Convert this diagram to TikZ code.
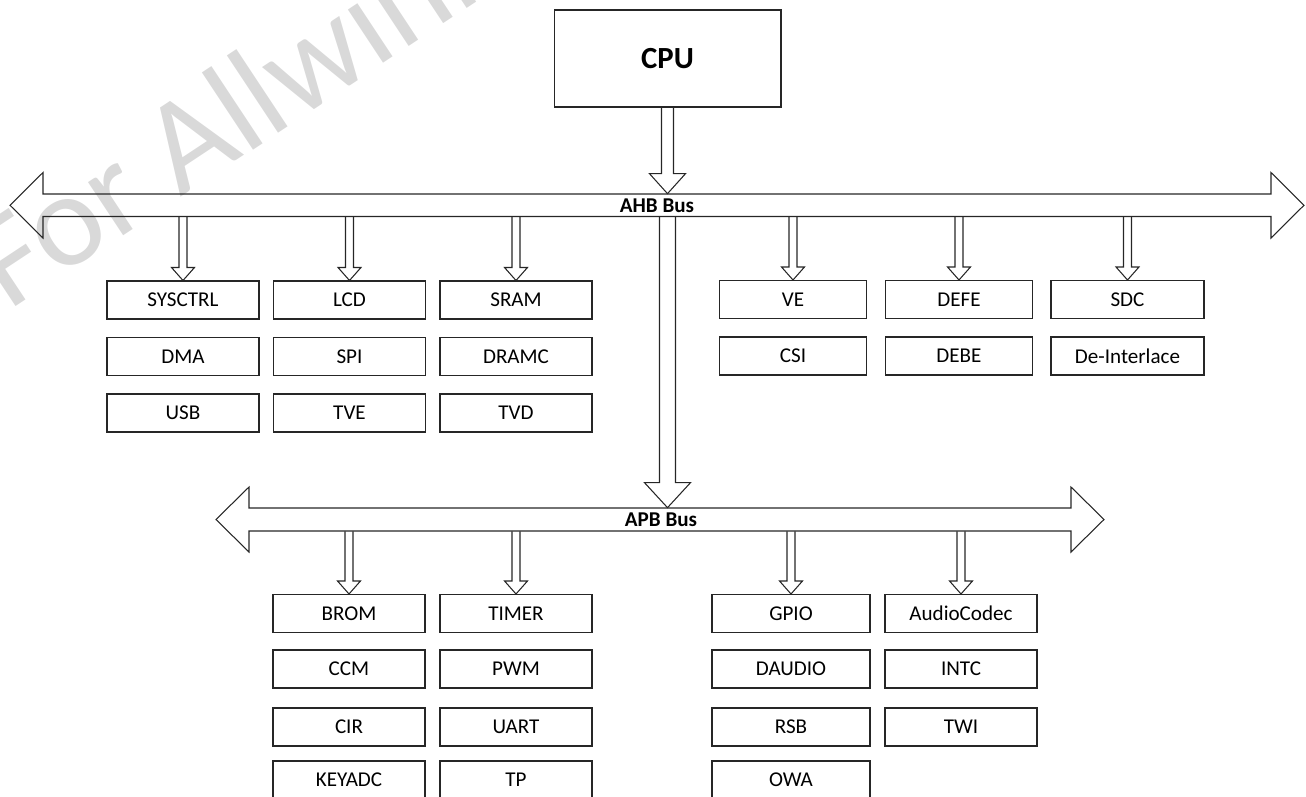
\documentclass[tikz,border=0pt]{standalone}
\usepackage{fontspec}
\setmainfont{Carlito}
\usepackage{tikz}
\usetikzlibrary{calc}
\definecolor{wmgray}{RGB}{217,217,217}
\tikzset{
  unit/.style={draw=black!85, line width=0.6pt, minimum width=3.04cm, minimum height=0.76cm, inner sep=0pt, font=\fontsize{12}{14}\selectfont},
  buslabel/.style={inner sep=0pt, minimum width=2cm, font=\bfseries\fontsize{12}{14}\selectfont},
  hollow/.style={draw=black!85, line width=0.6pt, line join=miter},
  wm/.style={text=wmgray, inner sep=0pt, font=\fontsize{76}{88}\selectfont}
}
\newcommand{\tapto}[5]{%
  \draw[hollow] let \p1=(#2), \p2=(#1.south) in
    (\x1-#3,\y2) -- (\x1-#3,\y1+#5) -- (\x1-#4,\y1+#5) -- (\p1)
    -- (\x1+#4,\y1+#5) -- (\x1+#3,\y1+#5) -- (\x1+#3,\y2);}
\begin{document}
\begin{tikzpicture}[x=0.02cm, y=-0.02cm]
\useasboundingbox (0,0) rectangle (1306,796);
\node[wm, rotate=33.5, anchor=base west] (WM) at (8,312) {For Allwinner};
\node[unit, minimum width=4.54cm, minimum height=1.94cm, font=\bfseries\fontsize{17.5}{20}\selectfont] (CPU) at (667.5,58.5) {CPU};
\draw[hollow] (10,205.25) -- (43,172.5) -- (43,194) -- (1271,194) -- (1271,172.5) -- (1304,205.25) -- (1271,238) -- (1271,216.5) -- (43,216.5) -- (43,238) -- cycle;
\node[buslabel, minimum height=0.45cm] (AHB) at (657,205.25) {AHB Bus};
\draw[hollow] (216,519.5) -- (249,487) -- (249,508) -- (1071,508) -- (1071,487) -- (1104,519.5) -- (1071,552) -- (1071,531) -- (249,531) -- (249,552) -- cycle;
\node[buslabel, minimum height=0.46cm] (APB) at (661,519.5) {APB Bus};
\node[unit] (G1NSYSCTRL) at (183,300) {SYSCTRL};
\node[unit] (G1NDMA) at (183,356.5) {DMA};
\node[unit] (G1NUSB) at (183,413) {USB};
\node[unit] (G1NLCD) at (349.5,300) {LCD};
\node[unit] (G1NSPI) at (349.5,356.5) {SPI};
\node[unit] (G1NTVE) at (349.5,413) {TVE};
\node[unit] (G1NSRAM) at (516,300) {SRAM};
\node[unit] (G1NDRAMC) at (516,356.5) {DRAMC};
\node[unit] (G1NTVD) at (516,413) {TVD};
\node[unit, minimum width=2.94cm] (G1NVE) at (793,299.5) {VE};
\node[unit, minimum width=2.94cm] (G1NCSI) at (793,356) {CSI};
\node[unit, minimum width=2.94cm] (G1NDEFE) at (959,299.5) {DEFE};
\node[unit, minimum width=2.94cm] (G1NDEBE) at (959,356) {DEBE};
\node[unit, minimum width=3.06cm] (G1NSDC) at (1127.5,299.5) {SDC};
\node[unit, minimum width=3.06cm] (G1NDeInterlace) at (1127.5,356) {De-Interlace};
\node[unit] (G2NBROM) at (349,613.5) {BROM};
\node[unit] (G2NCCM) at (349,669) {CCM};
\node[unit] (G2NCIR) at (349,727) {CIR};
\node[unit] (G2NKEYADC) at (349,780) {KEYADC};
\node[unit] (G2NTIMER) at (516,613.5) {TIMER};
\node[unit] (G2NPWM) at (516,669) {PWM};
\node[unit] (G2NUART) at (516,727) {UART};
\node[unit] (G2NTP) at (516,780) {TP};
\node[unit, minimum width=3.16cm] (G2NGPIO) at (791,613.5) {GPIO};
\node[unit, minimum width=3.16cm] (G2NDAUDIO) at (791,669) {DAUDIO};
\node[unit, minimum width=3.16cm] (G2NRSB) at (791,727) {RSB};
\node[unit, minimum width=3.16cm] (G2NOWA) at (791,780) {OWA};
\node[unit] (G2NAudioCodec) at (961,613.5) {AudioCodec};
\node[unit] (G2NINTC) at (961,669) {INTC};
\node[unit] (G2NTWI) at (961,727) {TWI};
\tapto{CPU}{CPU.south |- AHB.north}{0.12cm}{0.36cm}{0.4cm}
\tapto{AHB}{CPU.south |- APB.north}{0.16cm}{0.46cm}{0.5cm}
\tapto{AHB}{G1NSYSCTRL.north}{0.08cm}{0.23cm}{0.26cm}
\tapto{AHB}{G1NLCD.north}{0.08cm}{0.23cm}{0.26cm}
\tapto{AHB}{G1NSRAM.north}{0.08cm}{0.23cm}{0.26cm}
\tapto{AHB}{G1NVE.north}{0.08cm}{0.23cm}{0.26cm}
\tapto{AHB}{G1NDEFE.north}{0.08cm}{0.23cm}{0.26cm}
\tapto{AHB}{G1NSDC.north}{0.08cm}{0.23cm}{0.26cm}
\tapto{APB}{G2NBROM.north}{0.08cm}{0.23cm}{0.26cm}
\tapto{APB}{G2NTIMER.north}{0.08cm}{0.23cm}{0.26cm}
\tapto{APB}{G2NGPIO.north}{0.08cm}{0.23cm}{0.26cm}
\tapto{APB}{G2NAudioCodec.north}{0.08cm}{0.23cm}{0.26cm}
\end{tikzpicture}
\end{document}
